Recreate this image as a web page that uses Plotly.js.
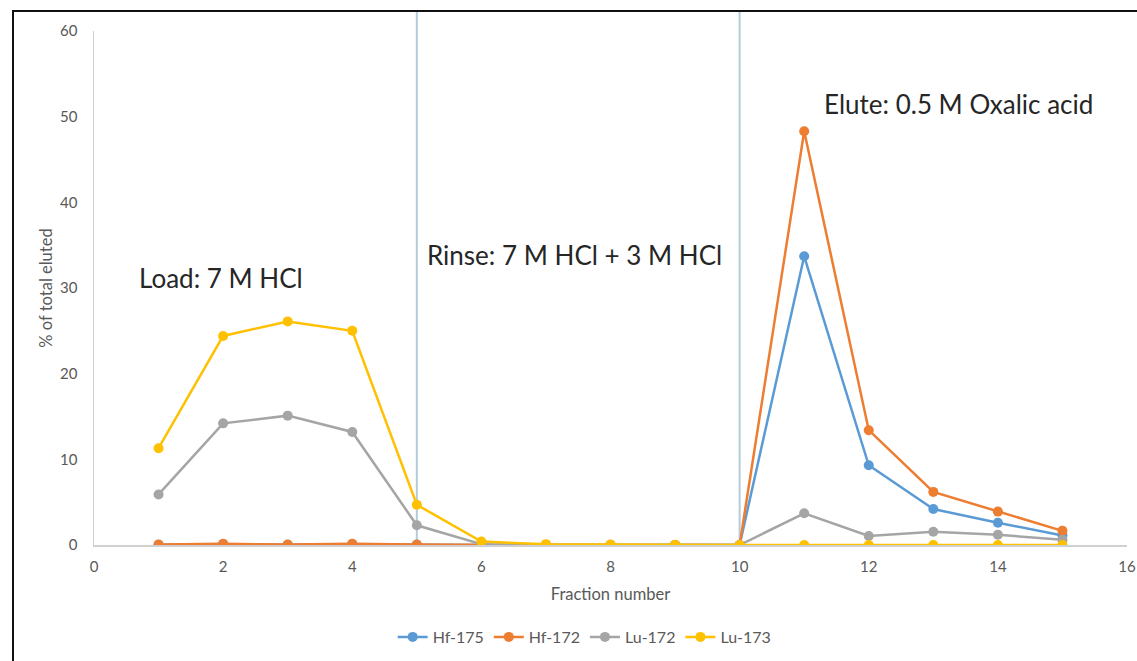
<!DOCTYPE html>
<html>
<head>
<meta charset="utf-8">
<script src="https://cdn.plot.ly/plotly-3.0.1.min.js"></script>
<style>
html,body{margin:0;padding:0;background:#fff;}
#wrap{position:relative;width:1137px;height:661px;}
#chart{width:1137px;height:661px;}
#frame{position:absolute;left:12px;top:10px;right:-5px;bottom:-5px;border-left:2px solid #111;border-top:2px solid #111;pointer-events:none;}
</style>
</head>
<body>
<div id="wrap"><div id="chart"></div><div id="frame"></div></div>
<script>
const fractions = [1,2,3,4,5,6,7,8,9,10,11,12,13,14,15];
const hf175 = [0.02,0.1,0.03,0.1,0.02,0,0,0,0,0,33.7,9.3,4.2,2.6,1.1];
const hf172 = [0.05,0.15,0.05,0.15,0.05,0,0,0,0,0,48.3,13.4,6.2,3.9,1.65];
const lu172 = [5.9,14.2,15.1,13.2,2.3,0.1,0.03,0.02,0.01,0,3.7,1.05,1.55,1.2,0.6];
const lu173 = [11.3,24.4,26.1,25.0,4.7,0.4,0.1,0.05,0.02,0,0,0,0,0,0];
const seriesNames = ['Hf-175','Hf-172','Lu-172','Lu-173'];
const seriesColors = ['#5B9BD5','#ED7D31','#A5A5A5','#FFC000'];
const seriesData = [hf175, hf172, lu172, lu173];
const phaseLines = [5, 10];
const phaseLabels = ['Load: 7 M HCl','Rinse: 7 M HCl + 3 M HCl','Elute: 0.5 M Oxalic acid'];
const phaseLabelX = [0.67, 5.12, 11.28];
const phaseLabelY = [31.2, 33.8, 51.5];

const traces = seriesData.map((d,i)=>({
  x: fractions, y: d, name: seriesNames[i], type:'scatter', mode:'lines+markers',
  line:{color:seriesColors[i], width:2.5},
  marker:{color:seriesColors[i], size:10}
}));

const shapes = phaseLines.map(v=>({
  type:'line', xref:'x', yref:'paper', x0:v, x1:v, y0:0, y1:1.041,
  line:{color:'#B4CCDA', width:2}, layer:'below'
}));

const annotations = phaseLabels.map((t,i)=>({
  text:t, x:phaseLabelX[i], y:phaseLabelY[i], xref:'x', yref:'y',
  xanchor:'left', yanchor:'middle', showarrow:false,
  font:{family:'Lato, sans-serif', size:26, color:'#262626'}
}));

const layout = {
  width:1137, height:661,
  margin:{l:94, r:10, t:31, b:116, autoexpand:false},
  paper_bgcolor:'#fff', plot_bgcolor:'#fff',
  font:{family:'Lato, sans-serif', color:'#595959'},
  showlegend:true,
  legend:{orientation:'h', x:0.475, xanchor:'center', y:-0.179, yanchor:'middle',
    font:{family:'Lato, sans-serif', size:16, color:'#595959'}},
  xaxis:{range:[0,16], dtick:2, tick0:0, showgrid:false, zeroline:false, automargin:false,
    showline:true, linecolor:'#D0D0D0', linewidth:1.5, ticks:'', ticklabelstandoff:7,
    tickfont:{size:15, color:'#595959'},
    title:{text:'Fraction number', font:{size:16.5, color:'#595959'}, standoff:15}},
  yaxis:{range:[0,60], dtick:10, showgrid:false, zeroline:false, automargin:false,
    showline:true, linecolor:'#D0D0D0', linewidth:1.5, ticks:'', ticklabelstandoff:12,
    tickfont:{size:15, color:'#595959'},
    title:{text:'% of total eluted', font:{size:16.5, color:'#595959'}, standoff:3}},
  shapes: shapes,
  annotations: annotations
};
Plotly.newPlot('chart', traces, layout, {displayModeBar:false, staticPlot:true});
</script>
</body>
</html>
